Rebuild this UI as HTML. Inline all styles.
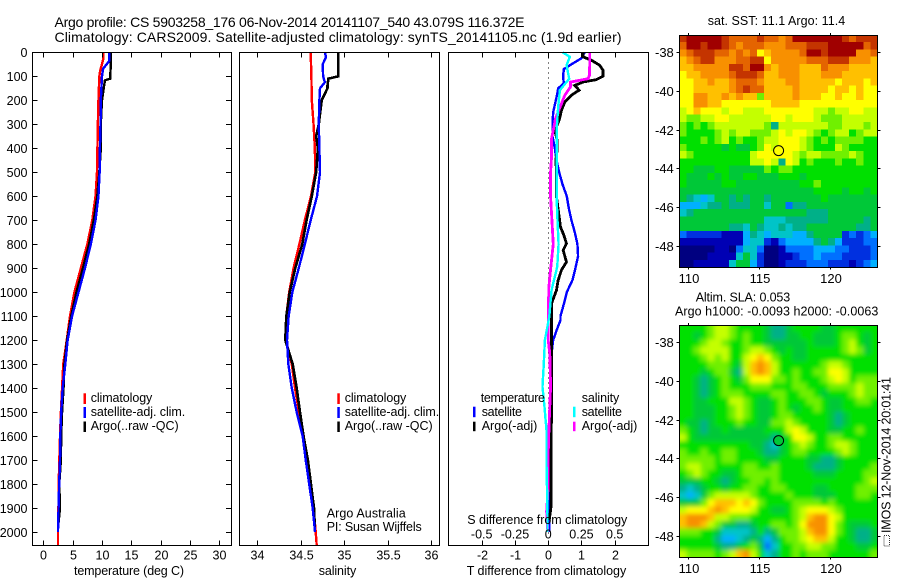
<!DOCTYPE html>
<html>
<head>
<meta charset="utf-8">
<title>Argo profile</title>
<style>
html,body{margin:0;padding:0;background:#fff}
svg{display:block}
text{font-family:"Liberation Sans",sans-serif;fill:#000}
.t{font-size:14px}
.s{font-size:12.5px}
</style>
</head>
<body>
<svg id="fig" xmlns="http://www.w3.org/2000/svg" width="900" height="580" viewBox="0 0 900 580">
  <defs>
    <filter id="soft" x="-5%" y="-5%" width="110%" height="110%"><feGaussianBlur stdDeviation="2.4"/></filter>
    <clipPath id="sla-clip"><rect x="679.5" y="325.5" width="198" height="232"/></clipPath>
  </defs>
  <rect width="900" height="580" fill="#fff"/>
  <g id="plots"></g>
  <g>
    <text class="t" x="54.5" y="27" textLength="470">Argo profile: CS 5903258_176 06-Nov-2014 20141107_540 43.079S 116.372E</text>
    <text class="t" x="54.5" y="42" textLength="567">Climatology: CARS2009. Satellite-adjusted climatology: synTS_20141105.nc (1.9d earlier)</text>
    <text class="s" x="74" y="575" textLength="110">temperature (deg C)</text>
    <text class="s" x="318.7" y="575" textLength="37.5">salinity</text>
    <text class="s" x="466.7" y="575" textLength="159.5">T difference from climatology</text>
    <text class="s" x="467.3" y="524" textLength="160">S difference from climatology</text>
    <text class="s" x="326.7" y="517.3" textLength="79">Argo Australia</text>
    <text class="s" x="326.7" y="531" textLength="95">PI: Susan Wijffels</text>
    <text class="s" x="707.7" y="25" textLength="137.5">sat. SST: 11.1  Argo: 11.4</text>
    <text class="s" x="695.7" y="301.7" textLength="94.5">Altim. SLA: 0.053</text>
    <text class="s" x="675" y="315.7" textLength="203.3">Argo h1000: -0.0093 h2000: -0.0063</text>
    <text class="s" transform="translate(890.5,533) rotate(-90)" x="0" y="0" textLength="156">IMOS 12-Nov-2014 20:01:41</text>
    <rect x="884" y="535.5" width="5.5" height="10.5" fill="none" stroke="#333" stroke-width="1" stroke-dasharray="1 1"/>
  </g>
  <g>
    <rect x="83.5" y="393.3" width="2.5" height="10.7" fill="#f00"/>
    <rect x="83.5" y="407" width="2.5" height="11" fill="#00f"/>
    <rect x="83.5" y="421.5" width="2.5" height="10.5" fill="#000"/>
    <text class="s" x="90.7" y="402" textLength="61.6">climatology</text>
    <text class="s" x="90.7" y="416" textLength="94.5">satellite-adj. clim.</text>
    <text class="s" x="90.7" y="430" textLength="88">Argo(..raw -QC)</text>
  </g>
  <g>
    <rect x="337.3" y="393.3" width="2.5" height="10.7" fill="#f00"/>
    <rect x="337.3" y="407" width="2.5" height="11" fill="#00f"/>
    <rect x="337.3" y="421.5" width="2.5" height="10.5" fill="#000"/>
    <text class="s" x="344.7" y="402" textLength="61.6">climatology</text>
    <text class="s" x="344.7" y="416" textLength="94.5">satellite-adj. clim.</text>
    <text class="s" x="344.7" y="430" textLength="88">Argo(..raw -QC)</text>
  </g>
  <g>
    <text class="s" x="480.7" y="402" textLength="64.3">temperature</text>
    <rect x="473" y="406.7" width="2.5" height="10.5" fill="#00f"/>
    <text class="s" x="481.7" y="416" textLength="40.3">satellite</text>
    <rect x="473" y="421.7" width="2.5" height="9.5" fill="#000"/>
    <text class="s" x="481.7" y="430" textLength="55.6">Argo(-adj)</text>
    <text class="s" x="581.7" y="402" textLength="37.6">salinity</text>
    <rect x="573" y="406.7" width="2.5" height="10.5" fill="#0ff"/>
    <text class="s" x="581.7" y="416" textLength="40.3">satellite</text>
    <rect x="573" y="421.7" width="2.5" height="9.5" fill="#f0f"/>
    <text class="s" x="581.7" y="430" textLength="55.6">Argo(-adj)</text>
  </g>
</svg>
<script>
// ---------- tick labels ----------
const depthTicks = [0,100,200,300,400,500,600,700,800,900,1000,1100,1200,1300,1400,1500,1600,1700,1800,1900,2000];
const tempTicks = [0,5,10,15,20,25,30];
const salTicks = [34,34.5,35,35.5,36];
const tDiffTicks = [-2,-1,0,1,2];
const sDiffTicks = [-0.5,-0.25,0,0.25,0.5];
const lonTicks = [110,115,120];
const latTicks = [-38,-40,-42,-44,-46,-48];

// ---------- temperature panel ----------
const tempClimDepth = [0,30,50,75,100,200,300,500,600,700,800,900,1000,1100,1200,1300,1400,1500,1600,1700,1800,1900,2000,2055];
const tempClim = [10.2,10.2,10.0,9.7,9.55,9.4,9.3,9.15,8.9,8.35,7.5,6.4,5.3,4.55,4.0,3.4,3.2,3.0,2.85,2.73,2.62,2.58,2.5,2.5];
const tempSatDepth = [0,35,50,68,100,200,300,400,500,600,700,800,900,1000,1100,1200,1300,1400,1500,1600,1700,1800,1900,2000];
const tempSat = [11.25,11.25,10.8,10.2,10.0,9.8,9.75,9.65,9.6,9.4,8.9,8.1,7.1,6.0,4.9,4.15,3.75,3.3,3.05,2.9,2.85,2.7,2.6,2.5];
const tempArgoDepth = [0,50,110,117,150,200,300,400,500,600,700,800,900,1000,1100,1200,1300,1400,1500,1600,1700,1800,1900,1960];
const tempArgo = [11.5,11.5,11.4,10.5,10.3,10.0,9.8,9.8,9.55,9.2,8.6,7.8,6.75,5.65,4.75,4.05,3.6,3.45,3.2,3.05,3.0,2.72,2.85,2.6];

// ---------- salinity panel ----------
const salClimDepth = [0,100,200,300,400,500,600,700,800,900,1000,1100,1200,1300,1400,1500,1600,1700,1800,1900,2000,2055];
const salClim = [34.617,34.625,34.63,34.65,34.665,34.67,34.62,34.55,34.487,34.42,34.37,34.337,34.333,34.40,34.437,34.483,34.537,34.575,34.61,34.65,34.675,34.686];
const salSatDepth = [0,20,50,100,125,150,200,300,400,500,600,700,800,900,1000,1100,1200,1300,1400,1500,1600,1700,1800,1900,2000];
const salSat = [34.78,34.793,34.755,34.76,34.78,34.724,34.717,34.71,34.717,34.724,34.69,34.617,34.55,34.48,34.406,34.364,34.345,34.36,34.40,34.456,34.525,34.56,34.6,34.64,34.667];
const salArgoDepth = [0,100,110,140,150,200,300,350,400,450,500,600,700,800,900,1000,1100,1200,1300,1400,1500,1600,1700,1800,1900,1980];
const salArgo = [34.935,34.935,34.82,34.81,34.81,34.744,34.71,34.68,34.70,34.69,34.68,34.63,34.57,34.52,34.44,34.376,34.337,34.325,34.41,34.456,34.494,34.535,34.585,34.62,34.655,34.665];

// ---------- difference panel ----------
const tDiffSatDepth = [0,25,50,70,100,130,150,175,200,250,300,350,400,450,500,550,600,650,700,750,800,850,900,950,1000,1050,1100,1117,1160,1200,1256,1350,1500,1700,2000];
const tDiffSat = [1.10,1.0,0.70,0.47,0.45,0.47,0.30,0.27,0.23,0.15,0.13,0.13,0.2,0.25,0.33,0.43,0.56,0.62,0.70,0.80,0.88,0.90,0.82,0.73,0.56,0.47,0.37,0.37,0.25,0.15,0.10,0.07,0.05,0.05,0.03];
const tDiffArgoDepth = [0,19,33,54,75,100,114,124,138,158,179,207,242,283,325,367,408,450,500,603,686,728,762,797,825,874,908,950,992,1047,1103,1300,1500,1700,1900,1950];
const tDiffArgo = [1.05,1.05,1.3,1.55,1.65,1.65,1.45,1.05,0.8,0.93,0.7,0.5,0.4,0.33,0.2,0.27,0.27,0.23,0.25,0.25,0.33,0.37,0.47,0.55,0.45,0.55,0.4,0.3,0.25,0.1,0.1,0.1,0.1,0.08,0.08,0.03];
const sDiffArgoDepth = [0,33,96,110,124,144,179,214,276,325,360,436,500,603,700,800,894,978,1103,1200,1256,1394,1533,1672,1811,1915,2000];
const sDiffArgo = [0.313,0.313,0.31,0.30,0.168,0.168,0.125,0.10,0.055,0.038,0.025,0.025,0.018,0.018,0.028,0.038,0.02,0.005,0,0,0.012,0.018,0.008,0,0,-0.012,-0.003];
const sDiffSatDepth = [0,19,54,110,158,228,325,450,603,700,800,894,992,1103,1200,1297,1394,1478,1575,1714,1839,1950,2000];
const sDiffSat = [0.108,0.163,0.138,0.158,0.088,0.075,0.063,0.063,0.063,0.07,0.078,0.068,0.025,0.008,-0.025,-0.033,-0.043,-0.028,-0.013,-0.013,-0.008,-0.005,-0.005];

// ---------- map grids (colour-scale level, 0 = coldest/lowest, 16 = warmest/highest) ----------
const sstLevels = [
[15,16,16,16,16,16,15,14,14,14,14,15,14,14,13,14,16,16,16,16,16,16,16,15,14,15,15,15],
[14,16,16,15,16,16,15,14,13,14,14,14,13,13,13,14,14,14,15,15,15,16,16,16,16,16,14,15],
[13,14,15,15,15,14,14,13,14,13,14,11,12,13,13,13,13,14,16,16,15,16,16,16,16,13,13,14],
[12,13,14,15,15,13,13,13,14,14,15,15,11,13,13,13,13,13,14,14,14,15,15,15,13,13,13,12],
[12,12,13,13,13,13,13,15,15,14,16,16,13,12,13,13,13,12,12,12,14,13,13,13,12,12,12,12],
[11,12,12,13,13,13,13,14,15,15,15,14,12,12,13,13,13,12,12,12,13,13,13,12,12,12,12,12],
[11,11,12,12,13,12,12,13,14,14,14,13,12,12,12,13,13,12,12,12,12,12,11,12,12,12,11,12],
[11,11,12,12,12,12,12,13,14,15,14,14,12,12,12,12,13,12,12,12,12,11,12,12,11,12,11,11],
[11,11,13,13,12,12,13,12,13,12,12,9,12,12,12,12,13,12,12,12,11,11,12,11,11,12,11,11],
[11,11,13,13,12,12,11,11,11,11,11,11,11,12,12,12,12,11,11,11,11,11,11,11,11,11,11,11],
[10,11,12,11,11,11,10,11,11,10,10,10,11,11,11,11,11,11,11,10,10,9,10,10,11,11,10,10],
[10,9,9,10,10,11,11,10,10,10,10,10,10,11,11,10,11,11,11,10,9,9,9,10,10,10,10,10],
[9,8,9,8,9,10,10,10,10,10,10,10,9,6,10,10,10,10,10,10,10,9,9,10,10,10,9,10],
[9,8,8,8,8,9,10,9,10,10,9,9,9,10,11,10,11,11,10,9,8,9,10,10,8,9,10,10],
[8,8,8,9,8,9,10,8,9,8,8,9,10,10,11,11,11,10,9,8,9,8,9,9,9,9,8,8],
[9,8,8,8,8,8,7,8,7,7,8,9,11,10,11,11,11,10,9,8,8,8,10,9,8,8,8,8],
[10,9,8,8,8,8,8,8,8,8,10,11,11,11,11,11,10,9,10,10,9,9,9,9,10,9,8,8],
[8,8,8,8,8,8,8,8,8,8,10,10,11,10,6,11,10,8,9,8,8,8,9,8,8,9,8,8],
[8,8,7,7,7,8,8,7,7,7,7,7,9,8,9,9,8,8,8,8,8,8,8,8,8,8,8,8],
[8,7,7,7,8,7,8,7,7,8,8,7,7,7,8,8,8,7,8,8,8,8,8,8,8,8,8,8],
[8,7,7,7,7,7,8,8,7,7,7,7,7,7,7,7,7,8,8,9,8,8,8,8,8,8,8,8],
[7,7,7,7,7,7,7,7,7,7,7,7,7,7,7,7,7,7,7,8,8,8,8,7,8,8,7,8],
[7,6,5,4,5,7,7,6,7,6,7,7,6,7,7,7,7,7,7,7,8,7,7,7,7,7,7,7],
[4,4,4,5,6,6,7,6,6,6,7,7,5,7,7,3,6,6,7,7,7,7,7,7,7,7,7,7],
[5,6,7,7,7,7,7,7,7,7,7,7,7,7,7,7,7,7,6,6,6,7,7,7,7,7,7,7],
[7,7,7,7,7,7,7,7,7,7,7,7,5,5,5,6,6,6,6,6,6,7,7,7,7,7,6,7],
[7,7,7,7,7,7,7,6,6,5,7,6,5,5,6,5,6,6,7,7,7,7,7,7,7,6,6,7],
[3,2,2,2,2,2,1,1,1,4,6,5,4,5,5,5,4,4,6,7,7,7,7,2,3,2,3,4],
[1,1,1,1,1,1,1,1,1,4,5,5,2,1,3,4,4,4,4,6,7,6,4,2,2,2,3,3],
[0,0,0,0,0,1,1,0,3,5,5,3,0,0,1,3,3,3,3,4,4,4,3,3,2,2,2,3],
[0,0,0,0,1,1,1,1,5,7,5,2,0,0,1,1,2,3,3,4,3,3,3,2,2,2,2,3],
[0,0,1,1,1,1,1,5,7,7,4,2,0,0,1,2,2,2,3,3,3,2,2,2,1,2,3,4]
];
const slaLevels = [
[8,8,8,8,9,10,10,9,8,8,8,8,7,6,6,7,8,8,8,8,7,7,8,8,8,8,8,8],
[8,8,7,8,9,10,10,9,8,9,8,8,7,6,6,7,7,8,8,7,7,7,8,9,9,8,7,8],
[8,8,8,9,10,10,9,8,8,9,8,8,7,7,7,7,7,7,8,7,7,7,8,9,10,8,7,8],
[8,8,9,10,10,10,10,8,8,9,10,10,9,8,7,8,7,7,8,8,8,8,8,9,10,9,7,8],
[8,8,8,9,10,9,10,8,8,10,11,12,11,9,8,8,7,7,8,8,8,8,8,8,8,8,8,8],
[8,8,8,8,9,9,9,8,7,10,12,13,12,10,8,8,8,8,8,8,9,10,10,9,8,8,8,8],
[8,8,8,7,8,9,9,7,6,10,12,13,12,10,8,8,9,8,8,9,9,11,11,10,8,8,8,8],
[8,8,7,6,7,8,9,8,7,9,11,11,11,9,9,8,9,8,8,8,9,10,11,10,8,9,9,9],
[8,8,7,6,7,8,9,8,8,8,9,9,9,8,8,8,9,9,8,8,8,9,9,9,9,10,9,9],
[8,8,7,6,7,8,9,9,9,8,8,8,8,9,9,8,8,9,9,8,7,8,8,8,9,10,9,9],
[8,8,7,7,8,8,8,10,10,9,8,7,7,8,9,8,8,8,9,9,8,7,7,8,8,9,9,8],
[8,8,7,7,7,8,8,9,10,9,8,7,7,8,9,8,7,8,8,9,8,7,7,8,8,8,8,8],
[8,8,7,7,7,8,8,9,10,9,8,7,7,8,9,9,8,8,8,8,8,7,6,7,8,8,8,8],
[8,7,7,6,7,8,8,8,9,8,8,7,7,9,9,10,9,8,8,8,8,7,6,7,8,8,8,8],
[9,8,7,6,7,7,8,7,7,7,7,7,8,8,8,10,11,10,8,8,8,7,7,8,8,9,8,8],
[10,8,7,7,7,7,7,7,7,7,7,7,7,6,7,8,11,11,10,8,8,9,9,8,8,8,8,8],
[8,8,8,8,8,8,8,8,8,8,7,7,6,5,7,8,9,10,9,8,8,9,10,10,9,8,8,8],
[9,8,8,9,8,8,9,9,8,8,8,7,6,6,7,8,9,9,8,8,8,8,9,10,9,8,8,8],
[9,9,9,9,9,8,9,9,8,8,8,8,7,7,8,8,8,8,7,7,6,6,7,8,8,8,8,8],
[9,10,10,9,9,8,8,8,8,9,9,8,8,9,8,8,8,8,7,6,6,6,7,8,8,8,8,9],
[8,9,10,9,8,8,7,7,8,9,9,9,9,9,8,8,8,8,8,7,7,7,8,8,8,8,9,9],
[7,7,7,8,8,7,6,7,8,8,9,9,8,9,8,8,8,8,8,8,8,8,8,8,8,8,9,10],
[6,5,6,7,8,8,7,8,8,9,9,8,8,9,9,8,8,8,8,7,7,8,8,8,8,9,9,9],
[5,4,5,7,9,10,10,10,10,10,9,8,8,8,8,9,8,8,8,7,7,7,8,8,8,9,9,8],
[7,7,7,9,11,12,12,12,11,12,11,9,8,8,8,8,9,9,9,9,8,9,8,8,8,8,8,8],
[10,11,11,11,12,13,12,11,11,11,10,8,8,7,7,8,9,10,11,11,11,10,9,8,8,8,8,8],
[12,13,13,13,12,10,10,9,9,9,8,8,8,8,8,8,9,10,12,13,13,11,10,8,8,8,8,8],
[12,13,13,12,10,9,7,7,6,6,7,8,8,9,9,8,9,11,13,13,13,11,9,8,7,7,7,8],
[9,9,9,8,8,7,5,5,5,5,6,8,6,7,9,9,9,10,12,13,13,11,9,8,7,6,6,7],
[8,8,8,8,8,6,4,4,5,6,7,6,4,6,8,9,9,10,11,12,12,10,8,8,7,6,6,7],
[8,8,8,8,8,7,6,6,7,8,9,7,3,5,8,8,9,9,10,10,9,9,8,8,8,7,7,8],
[10,9,9,9,9,8,9,10,12,13,10,8,5,6,8,8,9,8,9,9,9,8,8,8,8,8,8,9]
];
const argoLon = [116.372];
const argoLat = [-43.079];
const argoSstLevel = [11];
const argoSlaLevel = [7];

// ---------- colour scale ----------
const palette = ['#000080','#0000b4','#0030e0','#0070ff','#00b0ff','#00c4c8','#00b088','#00c838','#00e000','#70f000','#c4ff00','#ffff00','#ffc000','#f89000','#e46400','#c43400','#a00000'];

// ---------- geometry / scales ----------
const SVGNS = 'http://www.w3.org/2000/svg';
const plots = document.getElementById('plots');
const panelTop = 52.5, panelBottom = 545.5;
function depthY(d){ return 52.3 + d * 0.23985; }
function tempX(v){ return 43.3 + v * 5.867; }
function salX(v){ return 257 + (v - 34) * 87; }
function tDiffX(v){ return 548.2 + v * 33.2; }
function sDiffX(v){ return 548.2 + v * 133; }

function mk(tag, parent){
  const el = document.createElementNS(SVGNS, tag);
  parent.appendChild(el);
  return el;
}
function seg(parent, x1, y1, x2, y2, name){
  const el = mk('line', parent);
  el.setAttribute('x1', x1);
  el.setAttribute('y1', y1);
  el.setAttribute('x2', x2);
  el.setAttribute('y2', y2);
  el.setAttribute('stroke', '#000');
  el.setAttribute('stroke-width', 1);
  el.setAttribute('shape-rendering', 'crispEdges');
  
  
  return el;
}
function label(parent, x, y, str, anchor, name){
  const el = mk('text', parent);
  el.setAttribute('x', x);
  el.setAttribute('y', y);
  el.setAttribute('text-anchor', anchor);
  el.setAttribute('class', 's');
  el.textContent = str;
  
  
  return el;
}
function frame(parent, x, y, w, h, name){
  const el = mk('rect', parent);
  el.setAttribute('x', x);
  el.setAttribute('y', y);
  el.setAttribute('width', w);
  el.setAttribute('height', h);
  el.setAttribute('fill', 'none');
  el.setAttribute('stroke', '#000');
  el.setAttribute('stroke-width', 1);
  el.setAttribute('shape-rendering', 'crispEdges');
  
  
  return el;
}
function profile(parent, depths, values, xFn, color, width, name){
  const el = mk('polyline', parent);
  el.setAttribute('points', depths.map(function(d, i){ return xFn(values[i]).toFixed(2) + ',' + depthY(d).toFixed(2); }).join(' '));
  el.setAttribute('fill', 'none');
  el.setAttribute('stroke', color);
  el.setAttribute('stroke-width', width);
  el.setAttribute('shape-rendering', 'crispEdges');
  
  
  return el;
}

// ---------- temperature panel ----------
const p1 = mk('g', plots);


profile(p1, tempClimDepth, tempClim, tempX, '#f00', 2.4, 'temperature-climatology-line');
profile(p1, tempArgoDepth, tempArgo, tempX, '#000', 2.4, 'temperature-argo-line');
profile(p1, tempSatDepth, tempSat, tempX, '#00f', 2.4, 'temperature-satellite-line');
frame(p1, 32.5, panelTop, 199, panelBottom - panelTop, 'temperature-panel-frame');
depthTicks.forEach(function(d){
  const y = Math.round(depthY(d)) + 0.5;
  seg(p1, 32.5, y, 37.5, y, 'depth-tick-left');
  seg(p1, 226, y, 231.5, y, 'depth-tick-right');
  label(p1, 27.5, y + 4.5, String(d), 'end', 'depth-tick-label');
});
tempTicks.forEach(function(v){
  const x = Math.round(tempX(v)) + 0.5;
  seg(p1, x, panelTop, x, panelTop + 5, 'temperature-tick-top');
  seg(p1, x, panelBottom - 5, x, panelBottom, 'temperature-tick-bottom');
  label(p1, x, 559.3, String(v), 'middle', 'temperature-tick-label');
});

// ---------- salinity panel ----------
const p2 = mk('g', plots);


profile(p2, salClimDepth, salClim, salX, '#f00', 2.4, 'salinity-climatology-line');
profile(p2, salArgoDepth, salArgo, salX, '#000', 2.6, 'salinity-argo-line');
profile(p2, salSatDepth, salSat, salX, '#00f', 2.4, 'salinity-satellite-line');
frame(p2, 239.5, panelTop, 200, panelBottom - panelTop, 'salinity-panel-frame');
salTicks.forEach(function(v){
  const x = Math.round(salX(v)) + 0.5;
  seg(p2, x, panelTop, x, panelTop + 5, 'salinity-tick-top');
  seg(p2, x, panelBottom - 5, x, panelBottom, 'salinity-tick-bottom');
  label(p2, x, 559.3, String(v), 'middle', 'salinity-tick-label');
});

// ---------- difference panel ----------
const p3 = mk('g', plots);


const zero = seg(p3, 548.5, panelTop, 548.5, panelBottom, 'zero-line');
zero.setAttribute('stroke-dasharray', '1 4');
profile(p3, tDiffSatDepth, tDiffSat, tDiffX, '#00f', 2.4, 't-difference-satellite-line');
profile(p3, tDiffArgoDepth, tDiffArgo, tDiffX, '#000', 2.8, 't-difference-argo-line');
profile(p3, sDiffArgoDepth, sDiffArgo, sDiffX, '#f0f', 2.8, 's-difference-argo-line');
profile(p3, sDiffSatDepth, sDiffSat, sDiffX, '#0ff', 2.4, 's-difference-satellite-line');
frame(p3, 448.5, panelTop, 200, panelBottom - panelTop, 'difference-panel-frame');
tDiffTicks.forEach(function(v){
  const x = Math.round(tDiffX(v)) + 0.5;
  seg(p3, x, panelTop, x, panelTop + 5, 't-difference-tick-top');
  seg(p3, x, panelBottom - 5, x, panelBottom, 't-difference-tick-bottom');
  label(p3, x, 559.3, String(v), 'middle', 't-difference-tick-label');
});
sDiffTicks.forEach(function(v){
  label(p3, sDiffX(v), 538.7, String(v), 'middle', 's-difference-tick-label');
});

// ---------- maps ----------
const lonStart = 109.36, lonStep = 0.4995, latStart = -37.1, latStep = 0.375;
function lonX(lon){ return 688.3 + (lon - 110) * 14.17; }
function drawMap(levels, top, lat38Y, argoLevel, name, soft){
  const latY = function(lat){ return lat38Y + (-38 - lat) * 19.36; };
  const g = mk('g', plots);
  
  
  const clipWrap = mk('g', g);
  
  
  const cells = mk('g', clipWrap);
  
  
  if (soft) {
    clipWrap.setAttribute('clip-path', 'url(#sla-clip)');
    cells.setAttribute('filter', 'url(#soft)');
  }
  const pad = soft ? 10 : 0;
  levels.forEach(function(row, j){
    row.forEach(function(level, i){
      const c = mk('rect', cells);
      let x0 = lonX(lonStart + i * lonStep), x1 = lonX(lonStart + (i + 1) * lonStep);
      let y0 = latY(latStart - j * latStep), y1 = latY(latStart - (j + 1) * latStep);
      if (i === 0) x0 -= pad;
      if (i === row.length - 1) x1 += pad;
      if (j === 0) y0 -= pad;
      if (j === levels.length - 1) y1 += pad;
      c.setAttribute('x', x0.toFixed(2));
      c.setAttribute('y', y0.toFixed(2));
      c.setAttribute('width', (x1 - x0 + 0.4).toFixed(2));
      c.setAttribute('height', (y1 - y0 + 0.4).toFixed(2));
      c.setAttribute('fill', palette[level]);
      c.setAttribute('shape-rendering', 'crispEdges');
      
      
    });
  });
  const left = 679.5, right = 877.5, bottom = top + 232.3;
  frame(g, left, top + 0.5, right - left, 232, name + '-frame');
  lonTicks.forEach(function(lon){
    const x = Math.round(lonX(lon)) + 0.5;
    seg(g, x, top - 2, x, top, 'longitude-tick');
    seg(g, x, bottom, x, bottom + 2, 'longitude-tick');
    const t = label(g, x + 0.5, top + 248, String(lon), 'middle', 'longitude-tick-label');
    t.setAttribute('style', 'font-size:13px');
  });
  latTicks.forEach(function(lat){
    const y = Math.round(latY(lat)) + 0.5;
    seg(g, left - 3, y, left, y, 'latitude-tick');
    seg(g, right, y, right + 3, y, 'latitude-tick');
    const t = label(g, 673.8, y + 4.5, String(lat), 'end', 'latitude-tick-label');
    t.setAttribute('style', 'font-size:13px');
  });
  const m = mk('circle', g);
  m.setAttribute('cx', lonX(argoLon[0]).toFixed(2));
  m.setAttribute('cy', latY(argoLat[0]).toFixed(2));
  m.setAttribute('r', 5);
  m.setAttribute('fill', palette[argoLevel]);
  m.setAttribute('stroke', '#000');
  m.setAttribute('stroke-width', 1);
  
  
}
drawMap(sstLevels, 35, 52.3, argoSstLevel[0], 'sst-map', false);
drawMap(slaLevels, 325, 342.3, argoSlaLevel[0], 'sla-map', true);
</script>
</body>
</html>
